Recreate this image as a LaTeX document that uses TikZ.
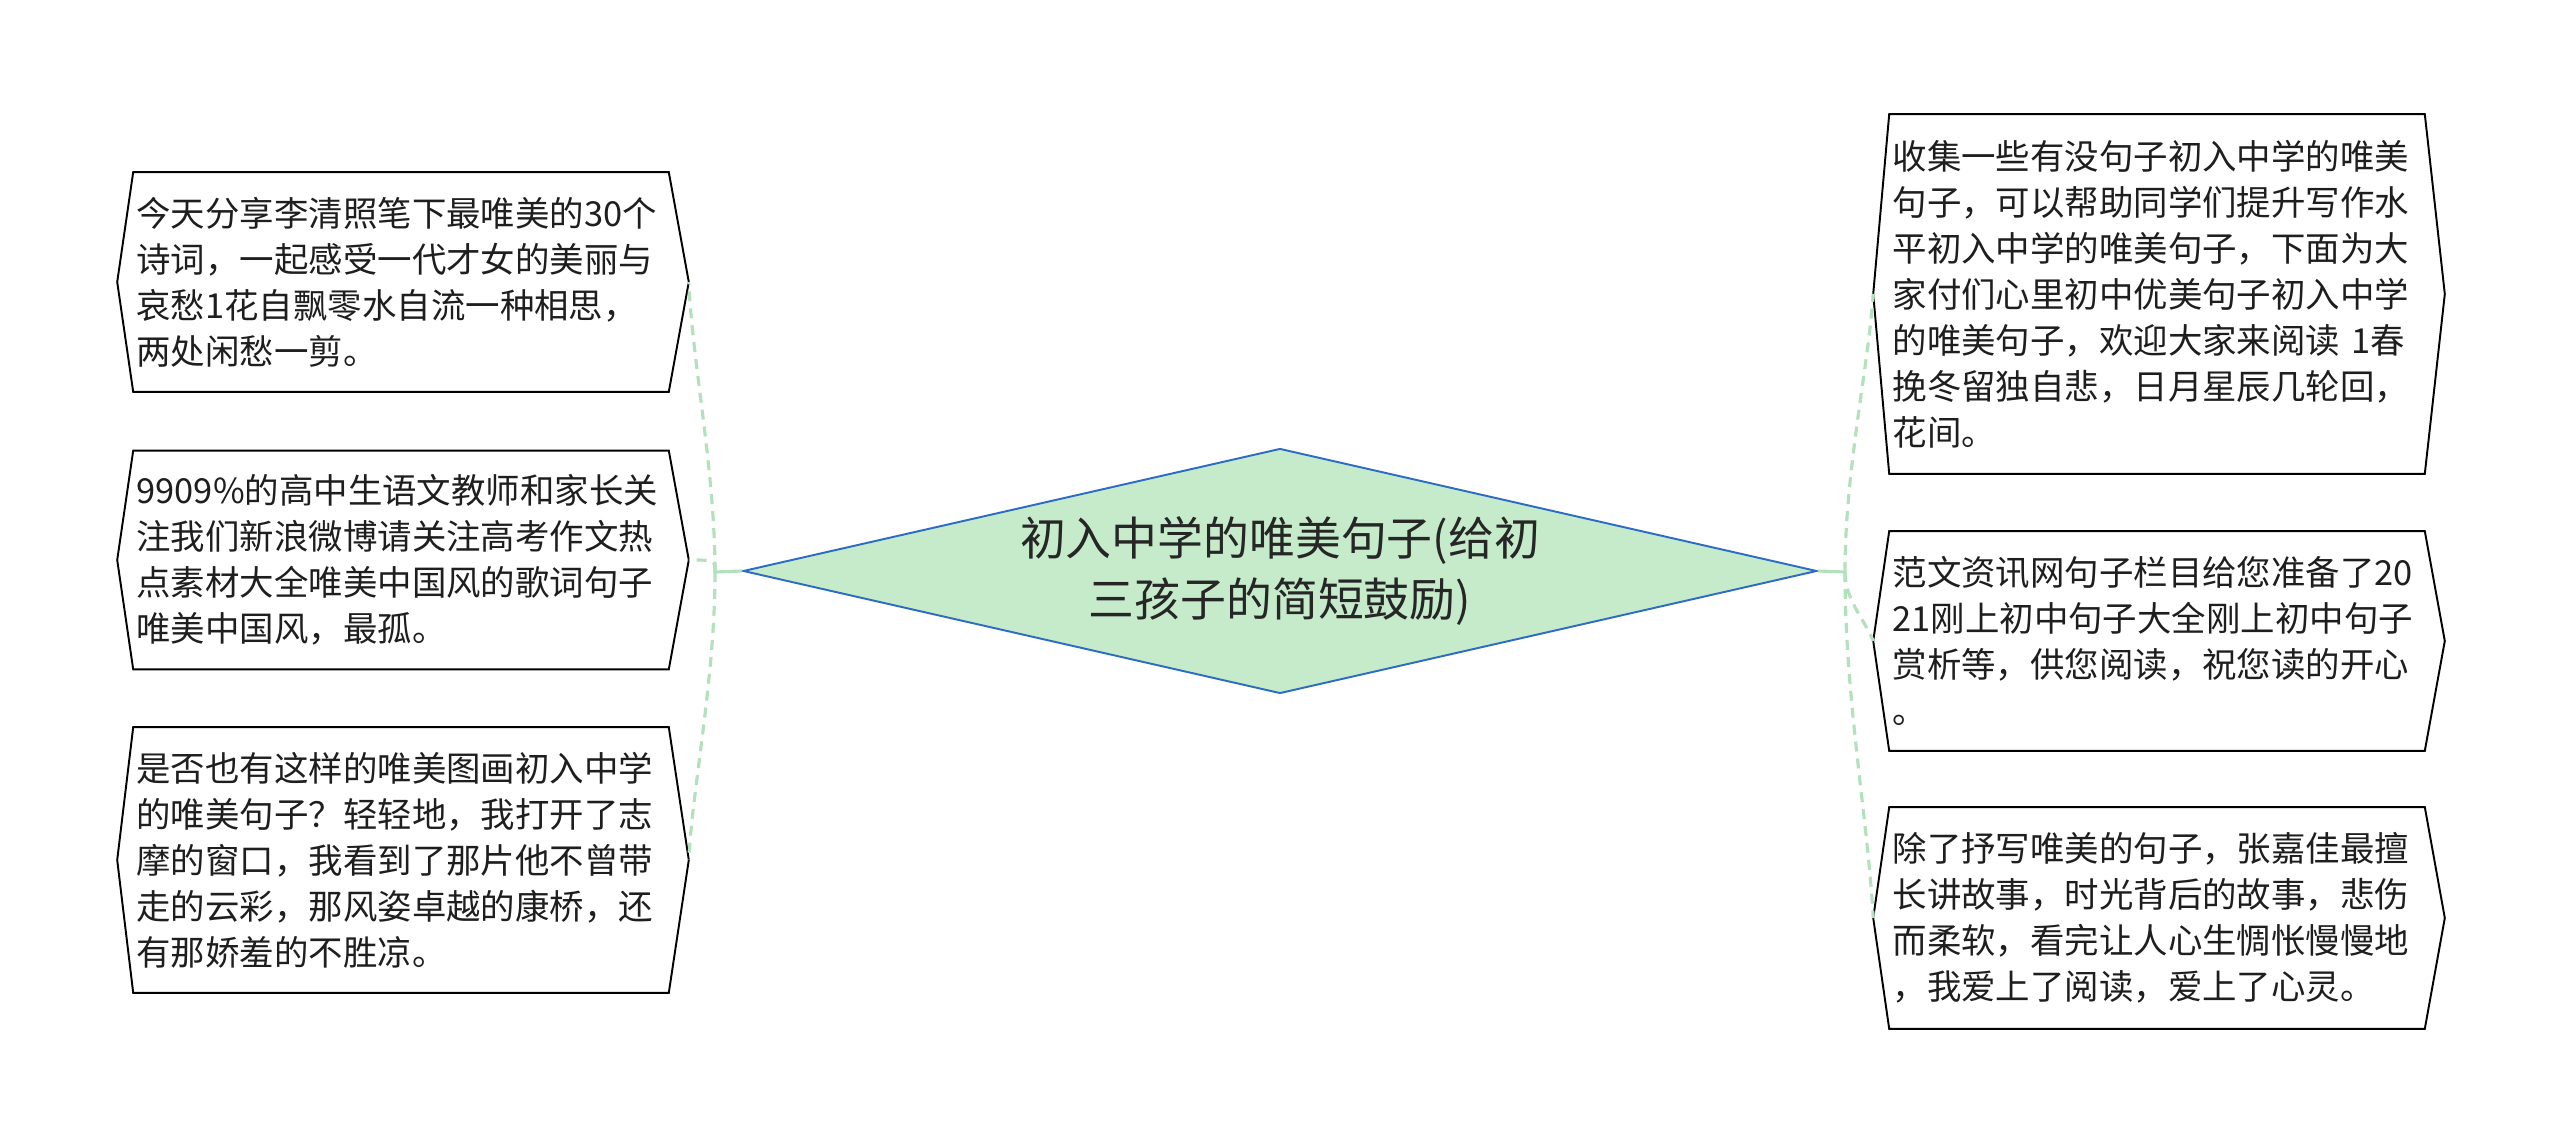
\documentclass[tikz,border=0pt]{standalone}
\usepackage{fontspec}
\newfontfamily\cjk{Noto Sans CJK SC}
\usetikzlibrary{shapes.geometric}

\definecolor{linkgreen}{HTML}{B3E0BD}
\definecolor{rootfill}{HTML}{C6EBCB}
\definecolor{rootline}{HTML}{2D6CC5}
\definecolor{leaftext}{HTML}{1E1E1E}

\tikzset{
  leaf/.style={rectangle, minimum width=10.7cm, text width=10.58cm, inner xsep=0.06cm, inner ysep=0pt,
    align=left, text=leaftext, font=\cjk\fontsize{19.6pt}{26.2pt}\selectfont},
  leafline/.style={draw=black, line width=1.1pt, line join=miter},
  root/.style={diamond, shape aspect=4.38, draw=rootline, fill=rootfill, line width=1.1pt,
    minimum width=21.48cm, minimum height=4.9cm, inner sep=0pt, align=center, text=black!85,
    font=\cjk\fontsize{26.1pt}{35.2pt}\selectfont},
  stem/.style={draw=linkgreen, line width=1.8pt},
  link/.style={draw=linkgreen, line width=1.8pt, dash pattern=on 0.2cm off 0.14cm}
}

\begin{document}
\begin{tikzpicture}[x=0.02cm, y=-0.02cm]
        \useasboundingbox[fill=white] (0,0) rectangle (2560,1145);

        % Draw the central topic
        \node[root] (root) at (1280,571) {初入中学的唯美句子(给初\\三孩子的简短鼓励)};

        % Draw the left leaves
        \node[leaf, minimum height=4.38cm] (l1) at (401,282) {今天分享李清照笔下最唯美的30个\\诗词，一起感受一代才女的美丽与\\哀愁1花自飘零水自流一种相思，\\两处闲愁一剪。};
        \node[leaf, minimum height=4.36cm] (l2) at (401,560) {9909\%的高中生语文教师和家长关\\注我们新浪微博请关注高考作文热\\点素材大全唯美中国风的歌词句子\\唯美中国风，最孤。};
        \node[leaf, minimum height=5.3cm] (l3) at (401,860) {是否也有这样的唯美图画初入中学\\的唯美句子？轻轻地，我打开了志\\摩的窗口，我看到了那片他不曾带\\走的云彩，那风姿卓越的康桥，还\\有那娇羞的不胜凉。};

        % Draw the right leaves
        \node[leaf, minimum height=7.18cm] (r1) at (2157,294) {收集一些有没句子初入中学的唯美\\句子，可以帮助同学们提升写作水\\平初入中学的唯美句子，下面为大\\家付们心里初中优美句子初入中学\\的唯美句子，欢迎大家来阅读 1春\\挽冬留独自悲，日月星辰几轮回，\\花间。};
        \node[leaf, minimum height=4.38cm] (r2) at (2157,641) {范文资讯网句子栏目给您准备了20\\21刚上初中句子大全刚上初中句子\\赏析等，供您阅读，祝您读的开心\\。};
        \node[leaf, minimum height=4.42cm] (r3) at (2157,918) {除了抒写唯美的句子，张嘉佳最擅\\长讲故事，时光背后的故事，悲伤\\而柔软，看完让人心生惆怅慢慢地\\，我爱上了阅读，爱上了心灵。};

        % Outline the leaves with pointed ends
        \foreach \n in {l1,l2,l3,r1,r2,r3}
            \draw[leafline] (\n.north west) -- ([xshift=-0.32cm]\n.west) coordinate (\n-w)
                -- (\n.south west) -- (\n.south east) -- ([xshift=0.4cm]\n.east) coordinate (\n-e)
                -- (\n.north east) -- cycle;

        % Draw the stems
        \coordinate (lhub) at (715,572);
        \coordinate (rhub) at (1845,572);
        \draw[stem] (root.west) -- (lhub);
        \draw[stem] (root.east) -- (rhub);

        % Draw the links
        \draw[link] (lhub) .. controls (715,470) and (692,360) .. (l1-e);
        \draw[link] (lhub) .. controls (715,560) .. (l2-e);
        \draw[link] (lhub) .. controls (715,680) and (692,790) .. (l3-e);
        \draw[link] (rhub) .. controls (1845,470) and (1868,370) .. (r1-w);
        \draw[link] (rhub) .. controls (1845,600) and (1865,620) .. (r2-w);
        \draw[link] (rhub) .. controls (1845,700) and (1868,820) .. (r3-w);

    \end{tikzpicture}
\end{document}
